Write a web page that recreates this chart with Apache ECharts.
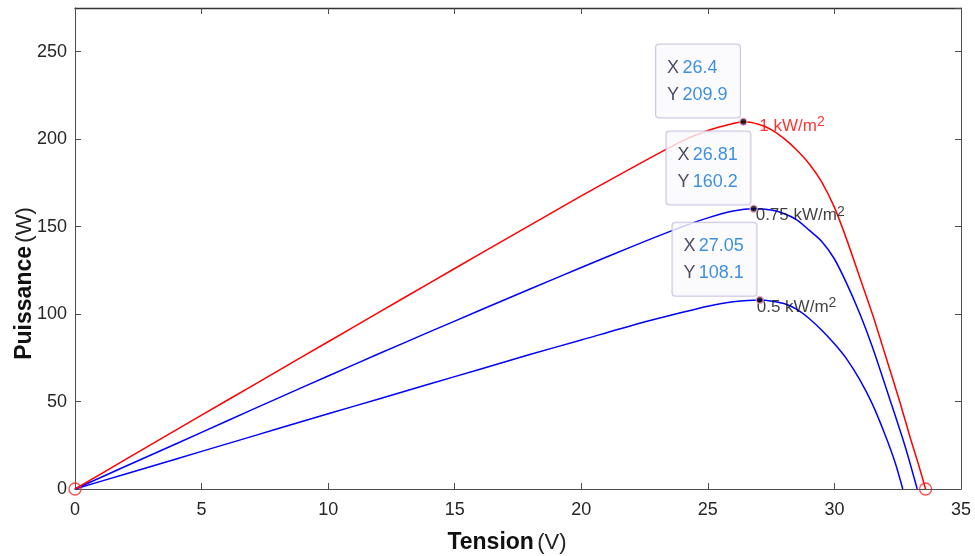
<!DOCTYPE html>
<html>
<head>
<meta charset="utf-8">
<script src="https://cdn.jsdelivr.net/npm/echarts@6/dist/echarts.min.js"></script>
<style>
html,body{margin:0;padding:0;background:#fff;}
#c{width:975px;height:556px;}
</style>
</head>
<body>
<div id="c"></div>
<script>
// ---- data ----
const xTicks = [0, 5, 10, 15, 20, 25, 30, 35];
const yTicks = [0, 50, 100, 150, 200, 250];

const v1kW = [0,2,4,6,8,10,12,14,16,18,20,22,24,25,26,26.4,27,27.5,28,28.5,29,29.5,30,30.5,31,31.5,32,32.6,33,33.3,33.6];
const p1kW = [0,16.9,33.8,50.6,67.4,84.2,101,117.7,134.4,151,167.6,183.6,199,205,209,209.9,208.5,205.5,200.5,194,186,175.5,161,142,121,100,77,49,29,15,0];

const v075kW = [0,2,4,6,8,10,12,14,16,18,20,22,24,25,26,26.81,27.5,28,28.5,29,29.5,30,30.5,31,31.5,32.2,32.8,33.27];
const p075kW = [0,13,25.9,38.9,51.8,64.6,77.3,89.8,102.2,114.5,126.6,138.6,150,155,158.9,160.2,159.5,157.5,154,148,141.5,131.5,117,100.3,81.2,50.8,24,0];

const v05kW = [0,2,4,6,8,10,12,14,16,18,20,22,24,25,26,27.05,28,28.5,29,29.5,30,30.5,31,31.5,32,32.4,32.7];
const p05kW = [0,8.6,17.2,25.8,34.4,43,51.5,60,68.5,77,85.2,93.5,101,104.5,107,108.1,106,102.8,97.5,90.8,83,74,62.5,48.5,31,15,0];

const tipX = [26.4, 26.81, 27.05];
const tipY = [209.9, 160.2, 108.1];
const tipText = ['26.4', '26.81', '27.05'];
const tipTextY = ['209.9', '160.2', '108.1'];
const curveNames = ['1 kW/m', '0.75 kW/m', '0.5 kW/m'];
const circleX = [0, 33.6];
const circleY = [0, 0];

// ---- styling (not data) ----
const labelOffsets = [[17, 5], [3, 8], [-2, 8]];
const labelColors = ['#ff0000', '#111111', '#111111'];

function pairs(xs, ys){ return xs.map((x, i) => [x, ys[i]]); }

const chart = echarts.init(document.getElementById('c'));
const fontFam = '"Liberation Sans", Arial, sans-serif';
const axisCol = '#4d4d4d';

const option = {
  animation: false,
  backgroundColor: '#ffffff',
  textStyle: { fontFamily: fontFam },
  grid: { left: 75, right: 14, top: 8, bottom: 67, containLabel: false, outerBoundsMode: 'none' },
  xAxis: [{
    type: 'value', min: 0, max: 35, interval: 5,
    axisLine: { show: true, onZero: false, lineStyle: { color: axisCol, width: 1 } },
    axisTick: { show: true, inside: true, length: 6, lineStyle: { color: axisCol } },
    splitLine: { show: false },
    axisLabel: { color: '#262626', fontSize: 18, margin: 12, fontFamily: fontFam },
    name: '{b|Tension} {n|(V)}',
    nameLocation: 'middle', nameGap: 42, nameMoveOverlap: false,
    nameTextStyle: {
      padding: [0, 22, 0, 0],
      rich: {
        b: { fontSize: 23, fontWeight: 'bold', color: '#111', fontFamily: fontFam },
        n: { fontSize: 22, color: '#222', fontFamily: fontFam }
      }
    }
  }, {
    type: 'value', min: 0, max: 35, interval: 5, position: 'top',
    axisLine: { show: true, onZero: false, lineStyle: { color: '#333', width: 1.3 } },
    axisTick: { show: true, inside: true, length: 6, lineStyle: { color: axisCol } },
    axisLabel: { show: false }, splitLine: { show: false }
  }],
  yAxis: [{
    type: 'value', min: 0, max: 275, interval: 50,
    axisLine: { show: true, onZero: false, lineStyle: { color: axisCol, width: 1 } },
    axisTick: { show: true, inside: true, length: 6, lineStyle: { color: axisCol } },
    splitLine: { show: false },
    axisLabel: { color: '#262626', fontSize: 18, margin: 8, showMaxLabel: false, fontFamily: fontFam },
    name: '{b|Puissance} {n|(W)}',
    nameLocation: 'middle', nameGap: 39, nameRotate: 90, nameMoveOverlap: false,
    nameTextStyle: {
      padding: [0, 70, 0, 0],
      rich: {
        b: { fontSize: 23, fontWeight: 'bold', color: '#111', fontFamily: fontFam },
        n: { fontSize: 22, color: '#222', fontFamily: fontFam }
      }
    }
  }, {
    type: 'value', min: 0, max: 275, interval: 50, position: 'right',
    axisLine: { show: true, onZero: false, lineStyle: { color: axisCol, width: 1 } },
    axisTick: { show: true, inside: true, length: 6, lineStyle: { color: axisCol } },
    axisLabel: { show: false }, splitLine: { show: false }
  }],
  series: [
    { type: 'line', name: '1 kW', data: pairs(v1kW, p1kW), showSymbol: false, smooth: 0.25,
      lineStyle: { color: '#ff0000', width: 1.5 }, z: 3 },
    { type: 'line', name: '0.75 kW', data: pairs(v075kW, p075kW), showSymbol: false, smooth: 0.25,
      lineStyle: { color: '#0000ff', width: 1.5 }, z: 2 },
    { type: 'line', name: '0.5 kW', data: pairs(v05kW, p05kW), showSymbol: false, smooth: 0.25,
      lineStyle: { color: '#0000ff', width: 1.5 }, z: 2 },
    { type: 'scatter', name: 'circles', data: pairs(circleX, circleY), symbol: 'circle', symbolSize: 12,
      itemStyle: { color: 'rgba(0,0,0,0)', borderColor: '#ff2020', borderWidth: 1.3 }, z: 4, clip: false },
    { type: 'scatter', name: 'curveLabels', symbolSize: 2, itemStyle: { color: 'rgba(0,0,0,0)' }, z: 5,
      data: tipX.map((x, i) => ({
        value: [x, tipY[i]],
        label: {
          show: true, position: labelOffsets[i], align: 'left', verticalAlign: 'middle',
          formatter: '{t|' + curveNames[i] + '}{s|2}',
          rich: {
            t: { fontSize: 17, color: labelColors[i], lineHeight: 22, fontFamily: fontFam },
            s: { fontSize: 14, color: labelColors[i], lineHeight: 22, verticalAlign: 'top', fontFamily: fontFam }
          }
        }
      }))
    },
    { type: 'scatter', name: 'tips', symbol: 'circle', symbolSize: 7, z: 6,
      itemStyle: { color: '#000', borderColor: '#f4a6d8', borderWidth: 1.5 },
      data: tipX.map((x, i) => ({
        value: [x, tipY[i]],
        label: {
          show: true, position: [-83, 0], align: 'left', verticalAlign: 'bottom',
          width: 60,
          formatter: '{k|X} {v|' + tipText[i] + '}\n{k|Y} {v|' + tipTextY[i] + '}',
          backgroundColor: '#fafafe', borderColor: '#bcb8d6', borderWidth: 1, borderRadius: 3,
          padding: [10, 13, 9, 11],
          rich: {
            k: { fontSize: 18, color: '#20203e', lineHeight: 27, fontFamily: fontFam },
            v: { fontSize: 18, color: '#0f74d6', lineHeight: 27, fontFamily: fontFam }
          }
        }
      }))
    }
  ]
};
chart.setOption(option);
</script>
</body>
</html>
